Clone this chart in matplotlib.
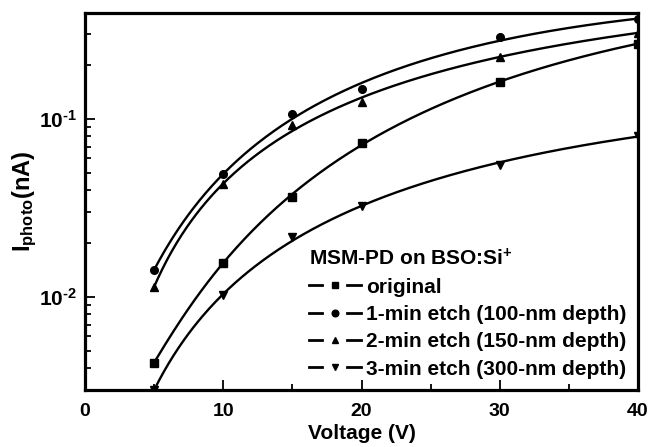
import numpy as np
import matplotlib
matplotlib.use("Agg")
import matplotlib.pyplot as plt
from matplotlib.lines import Line2D
from matplotlib.legend_handler import HandlerBase
import matplotlib.ticker as mticker

plt.rcParams['font.family'] = ['Liberation Sans', 'DejaVu Sans']
plt.rcParams['font.weight'] = 'bold'
plt.rcParams['mathtext.fontset'] = 'custom'
plt.rcParams['mathtext.rm'] = 'Liberation Sans:bold'
plt.rcParams['mathtext.bf'] = 'Liberation Sans:bold'
plt.rcParams['mathtext.it'] = 'Liberation Sans:bold'
plt.rcParams['mathtext.default'] = 'bf'

voltage = [5, 10, 15, 20, 30, 40]
original = [0.00428, 0.0156, 0.0366, 0.073, 0.162, 0.265]
etch1 = [0.0142, 0.049, 0.106, 0.147, 0.29, 0.365]
etch2 = [0.0114, 0.043, 0.0925, 0.125, 0.224, 0.305]
etch3 = [0.0030, 0.0103, 0.0218, 0.0323, 0.0552, 0.080]

labels = ["original", "1-min etch (100-nm depth)",
          "2-min etch (150-nm depth)", "3-min etch (300-nm depth)"]
markers = ["s", "o", "^", "v"]
series = [original, etch1, etch2, etch3]
legend_title = "MSM-PD on BSO:Si$^{+}$"
xticks = [0, 10, 20, 30, 40]


class SplitHandler(HandlerBase):
    def create_artists(self, legend, orig_handle, xdescent, ydescent,
                       width, height, fontsize, trans):
        y = height / 2 - ydescent
        x0 = -xdescent
        l1 = Line2D([x0, x0 + 0.25 * width], [y, y], color='black', lw=2.0)
        l2 = Line2D([x0 + 0.73 * width, x0 + width], [y, y], color='black', lw=2.0)
        mk = Line2D([x0 + 0.5 * width], [y], ls='none', color='black',
                    marker=orig_handle.get_marker(), ms=4.8)
        for a in (l1, l2, mk):
            a.set_transform(trans)
        return [l1, l2, mk]


fig = plt.figure(figsize=(6.52, 4.47), dpi=100)
ax = fig.add_axes([85 / 652, 1 - 390 / 447, 553 / 652, 377 / 447])

x = np.array(voltage, dtype=float)
weights = np.array([5, 2, 1, 1, 1, 2], dtype=float)
handles = []
for ys, m in zip(series, markers):
    ly = np.log10(np.array(ys))
    coef = np.polyfit(np.log10(x), ly, 3, w=weights)
    xs = np.linspace(x[0], x[-1], 300)
    ax.plot(xs, 10 ** np.polyval(coef, np.log10(xs)), color='black', lw=1.7)
    ax.plot(x, ys, linestyle='none', marker=m, color='black', ms=5.5)
    handles.append(Line2D([], [], color='black', marker=m))

ax.set_yscale('log')
ax.set_xlim(0, 40)
ax.set_ylim(0.003, 0.394)
ax.set_xticks(xticks)
ax.set_xticks([5, 15, 25, 35], minor=True)
ax.tick_params(axis='both', which='both', direction='in', top=False, right=False,
               labelsize=14, width=1.3)
ax.tick_params(axis='y', which='both', labelsize=15)
ax.tick_params(axis='x', which='both', pad=9)
ax.tick_params(axis='y', which='both', pad=6)
ax.tick_params(axis='both', which='major', length=7)
ax.tick_params(axis='both', which='minor', length=4)
ax.yaxis.set_major_formatter(mticker.FuncFormatter(
    lambda v, p: "10$^{\u2010%d}$" % abs(int(round(np.log10(v))))))
ax.yaxis.set_minor_formatter(mticker.NullFormatter())
for lab in ax.get_xticklabels() + ax.get_yticklabels():
    lab.set_fontweight('bold')
for s in ax.spines.values():
    s.set_linewidth(2.3)

ax.set_xlabel("Voltage (V)", fontsize=15, fontweight='bold', labelpad=3)
ax.set_ylabel("I$_{photo}$(nA)", fontsize=17, fontweight='bold', labelpad=0)

leg = fig.legend(handles, labels, title=legend_title, loc='upper left',
                 bbox_to_anchor=(309 / 652, 1 - 248 / 447),
                 bbox_transform=fig.transFigure,
                 frameon=False, fontsize=15, title_fontsize=15,
                 handlelength=2.5, handletextpad=0.25, labelspacing=0.4,
                 borderaxespad=0, borderpad=0, alignment='left',
                 handler_map={Line2D: SplitHandler()})
for t in leg.get_texts():
    t.set_fontweight('bold')
leg.get_title().set_fontweight('bold')

fig.savefig("out.png", dpi=100)
